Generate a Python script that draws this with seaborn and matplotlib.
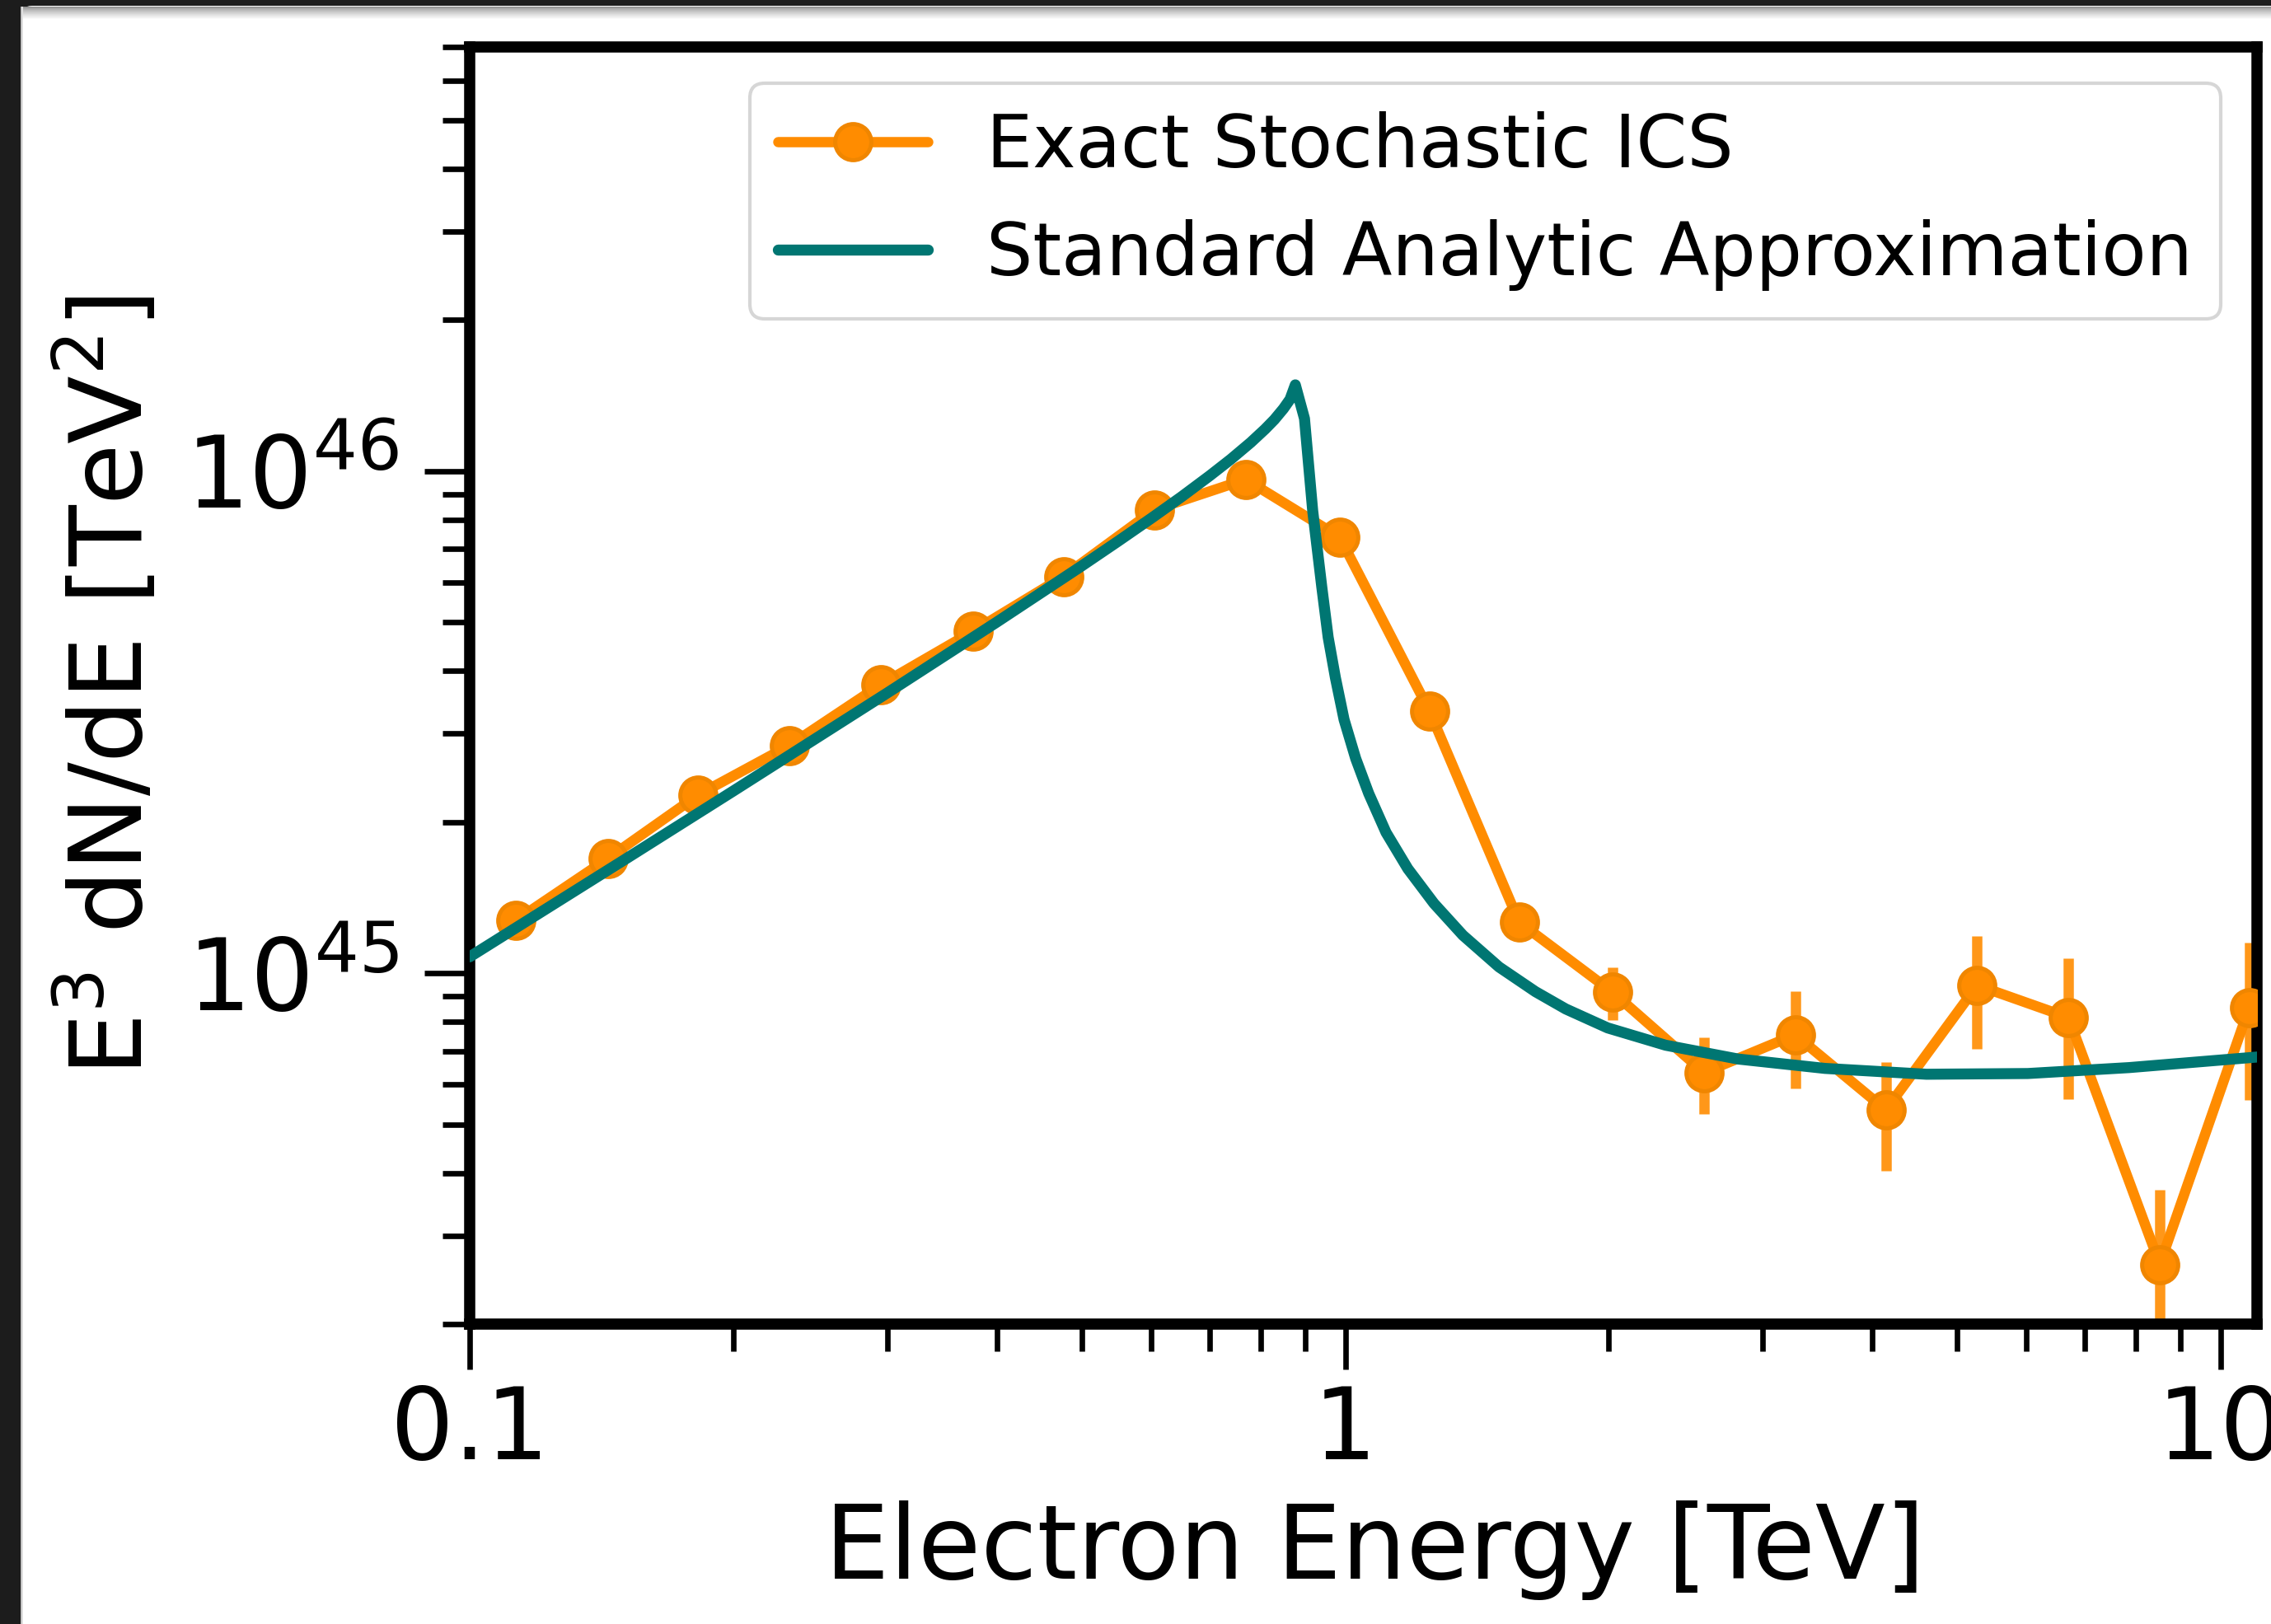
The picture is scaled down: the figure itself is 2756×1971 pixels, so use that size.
import matplotlib
matplotlib.use("Agg")
import matplotlib.pyplot as plt
import seaborn as sns
from matplotlib.patches import Rectangle, FancyBboxPatch
from matplotlib.transforms import IdentityTransform
from matplotlib.ticker import FixedLocator, FixedFormatter, LogLocator, NullFormatter

# ---- Monte Carlo (exact stochastic inverse-Compton) spectrum, binned ----
energy_mc = [0.1128, 0.1438, 0.1824, 0.2317, 0.2946, 0.3759, 0.4766, 0.6055,
             0.7697, 0.9856, 1.248, 1.580, 2.021, 2.570, 3.265, 4.145,
             5.270, 6.700, 8.520, 10.78]
flux_mc = [1.272e45, 1.692e45, 2.266e45, 2.840e45, 3.753e45, 4.80e45, 6.17e45, 8.38e45,
           9.63e45, 7.39e45, 3.33e45, 1.264e45, 9.16e44, 6.34e44, 7.54e44, 5.34e44,
           9.46e44, 8.16e44, 2.63e44, 8.55e44]
flux_mc_err = [3e43, 4e43, 5e43, 6e43, 8e43, 1.0e44, 1.2e44, 1.5e44,
               1.7e44, 1.6e44, 1.1e44, 7e43, 1.1e44, 1.1e44, 1.65e44, 1.3e44,
               2.4e44, 2.55e44, 1.08e44, 2.95e44]

# ---- Standard analytic (continuous-loss) approximation ----
energy_an = [0.100, 0.150, 0.200, 0.300, 0.400, 0.500, 0.550, 0.600, 0.650, 0.700,
             0.740, 0.780, 0.810, 0.830, 0.850, 0.865, 0.877, 0.8984, 0.9180,
             0.9403, 0.9561, 0.9745, 0.9970, 1.028, 1.0637, 1.1133, 1.1789,
             1.2629, 1.3628, 1.4985, 1.6489, 1.786, 1.994, 2.3227, 2.810,
             3.531, 4.612, 6.021, 7.859, 11.07]
flux_an = [1.078e45, 1.680e45, 2.306e45, 3.618e45, 5.006e45, 6.475e45, 7.248e45,
           8.05e45, 8.89e45, 9.79e45, 1.056e46, 1.141e46, 1.213e46, 1.267e46,
           1.332e46, 1.391e46, 1.486e46, 1.273e46, 8.344e45, 5.874e45, 4.67e45,
           3.879e45, 3.200e45, 2.676e45, 2.281e45, 1.907e45, 1.615e45, 1.377e45,
           1.190e45, 1.029e45, 9.19e44, 8.487e44, 7.781e44, 7.187e44, 6.746e44,
           6.462e44, 6.291e44, 6.312e44, 6.486e44, 6.814e44]

label_mc = "Exact Stochastic ICS"
label_an = "Standard Analytic Approximation"
x_ticks = [0.1, 1, 10]
x_ticklabels = ["0.1", "1", "10"]

ORANGE = "#ff8c00"
ORANGE_EDGE = "#f08600"
TEAL = "#007672"

W, H, DPI = 2756, 1971, 300

sns.set_theme(style="ticks")
plt.rcParams["font.family"] = ["DejaVu Sans"]
plt.rcParams["mathtext.fontset"] = "dejavusans"

fig = plt.figure(figsize=(W / DPI, H / DPI), dpi=DPI, facecolor="#1c1c1c")

# window frame: white card with a soft shadow under the dark border
fig.patches.append(FancyBboxPatch((25, -60), W + 100, H - 7 + 60,
                                  boxstyle="round,pad=0,rounding_size=14",
                                  transform=IdentityTransform(), fc="white",
                                  ec="none", zorder=-10))
for i in range(16):
    g = 0.55 + 0.45 * (i / 15) ** 0.7
    fig.patches.append(Rectangle((25, H - 8 - i - 1), W, 1, transform=IdentityTransform(),
                                 fc=(g, g, g), ec="none", zorder=-9))
for i in range(3):
    g = 0.72 + 0.09 * i
    fig.patches.append(Rectangle((25 + i, 0), 1, H - 8, transform=IdentityTransform(),
                                 fc=(g, g, g), ec="none", zorder=-9))

ax = fig.add_axes([570 / W, 1 - 1607 / H, (2739 - 570) / W, (1607 - 57) / H])
ax.set_facecolor("white")
ax.set_xscale("log")
ax.set_yscale("log")

ax.errorbar(energy_mc, flux_mc, yerr=flux_mc_err, fmt="none", ecolor=ORANGE,
            elinewidth=3.0, alpha=0.9, zorder=2)
sns.lineplot(x=energy_mc, y=flux_mc, ax=ax, color=ORANGE, lw=3.0, marker="o",
             markersize=10.5, markerfacecolor=ORANGE, markeredgecolor=ORANGE_EDGE,
             markeredgewidth=1.2, zorder=3, label=label_mc)
sns.lineplot(x=energy_an, y=flux_an, ax=ax, color=TEAL, lw=3.2, zorder=4,
             label=label_an)

ax.set_xlim(0.1, 11.0)
ax.set_ylim(2e44, 7e46)

ax.xaxis.set_major_locator(FixedLocator(x_ticks))
ax.xaxis.set_major_formatter(FixedFormatter(x_ticklabels))
ax.xaxis.set_minor_locator(LogLocator(base=10, subs=range(2, 10)))
ax.xaxis.set_minor_formatter(NullFormatter())

for side in ["left", "right", "top", "bottom"]:
    ax.spines[side].set_visible(True)
    ax.spines[side].set_color("black")
    ax.spines[side].set_linewidth(3.25)

ax.tick_params(which="major", direction="out", length=13.2, width=1.6, colors="black",
               labelsize=29, pad=4, top=False, right=False)
ax.tick_params(which="minor", direction="out", length=7.9, width=1.6, colors="black",
               top=False, right=False)
ax.tick_params(axis="y", which="major", pad=7.3)

ax.set_xlabel("Electron Energy [TeV]", fontsize=29.8, color="black", labelpad=6,
              x=0.5065)
ax.set_ylabel(r"E$^3$ dN/dE [TeV$^2$]", fontsize=29, color="black", labelpad=6.6)

leg = ax.legend(loc="upper right", fontsize=21.3, labelspacing=0.5, borderpad=0.38,
                handlelength=2.05, handletextpad=0.8, borderaxespad=0.5,
                frameon=True, fancybox=True, framealpha=0.8)
leg.get_frame().set_edgecolor("0.8")
leg.get_frame().set_linewidth(1.0)
for t in leg.get_texts():
    t.set_color("black")

fig.savefig("out.png", dpi=DPI, facecolor=fig.get_facecolor())
